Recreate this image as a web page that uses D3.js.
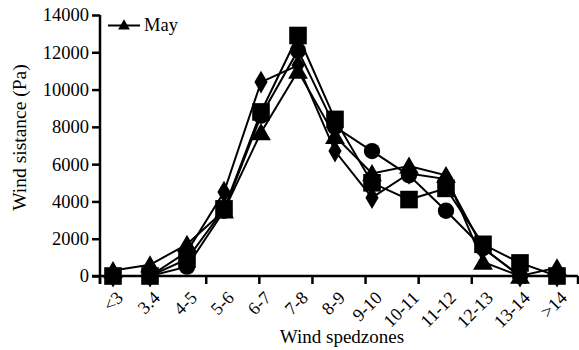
<!DOCTYPE html>
<html>
<head>
<meta charset="utf-8">
<script src="https://cdn.jsdelivr.net/npm/d3@7"></script>
<style>
html,body{margin:0;padding:0;background:#fff;}
svg{display:block;}
svg text{font-family:"Liberation Serif","Times New Roman",serif;fill:#000;}
</style>
</head>
<body>
<svg id="chart" width="579" height="350"></svg>
<script>
const categories = ["<3","3.4","4-5","5-6","6-7","7-8","8-9","9-10","10-11","11-12","12-13","13-14",">14"];
const diamondValues  = [0, 0, 1300, 4500, 10400, 11300, 6700, 4200, 5500, 5200, 1500, 0, 0];
const circleValues   = [0, 0, 500, 3500, 8600, 12100, 8000, 6700, 5400, 3500, 1500, 0, 0];
const squareValues   = [0, 0, 900, 3600, 8800, 12900, 8400, 5000, 4100, 4700, 1700, 700, 0];
const triangleValues = [300, 600, 1700, 3500, 7700, 11000, 7500, 5500, 5900, 5400, 750, 0, 450];
const yTicks = [0, 2000, 4000, 6000, 8000, 10000, 12000, 14000];
const legendLabel = "May";

const series = [
  {name: "diamond", values: diamondValues, symbol: d3.symbolDiamond, size: 150},
  {name: "circle", values: circleValues, symbol: d3.symbolCircle, size: 210},
  {name: "square", values: squareValues, symbol: d3.symbolSquare, size: 310},
  {name: "triangle", values: triangleValues, symbol: d3.symbolTriangle, size: 170}
];

const svg = d3.select("#chart");
const mLeft = 100, mRight = 578, mTop = 15, mBottom = 276;

const y = d3.scaleLinear().domain([0, 14000]).range([mBottom, mTop]);
const x = d3.scalePoint().domain(categories).range([113, 557]);
const tickScale = d3.scaleLinear().domain([0, 9]).range([mLeft, mRight]);

// Y axis
const yAxis = d3.axisLeft(y).tickValues(yTicks).tickSize(8).tickPadding(3).tickFormat(d3.format("d"));
const gy = svg.append("g").attr("transform", `translate(${mLeft},0)`).call(yAxis);
gy.select(".domain").remove();
gy.attr("font-family", null).attr("font-size", null);
gy.selectAll(".tick line").attr("stroke", "#000").attr("stroke-width", 2.5);
gy.selectAll("text").attr("font-size", 18.5);
svg.append("line").attr("x1", mLeft).attr("x2", mLeft).attr("y1", mTop).attr("y2", mBottom + 8)
  .attr("stroke", "#000").attr("stroke-width", 2.5);

// X axis line and ticks
svg.append("line").attr("x1", mLeft - 8).attr("x2", mRight).attr("y1", mBottom).attr("y2", mBottom)
  .attr("stroke", "#000").attr("stroke-width", 2.5);
svg.append("g").selectAll("line").data(d3.range(0, 10)).join("line")
  .attr("x1", d => tickScale(d)).attr("x2", d => tickScale(d))
  .attr("y1", mBottom).attr("y2", mBottom + 8)
  .attr("stroke", "#000").attr("stroke-width", 2.5);

// X labels
svg.append("g").selectAll("text").data(categories).join("text")
  .attr("transform", d => `translate(${x(d) + 11},${mBottom + 23}) rotate(-45)`)
  .attr("text-anchor", "end")
  .attr("font-size", 18)
  .text(d => d);

// Titles
svg.append("text").attr("x", 342).attr("y", 343).attr("text-anchor", "middle")
  .attr("font-size", 19).text("Wind spedzones");
svg.append("text").attr("transform", "translate(26,137.5) rotate(-90)")
  .attr("text-anchor", "middle").attr("font-size", 19.5).text("Wind sistance (Pa)");

// Lines
const line = d3.line().x((d, i) => x(categories[i])).y(d => y(d));
series.forEach(s => {
  svg.append("path").datum(s.values).attr("d", line)
    .attr("fill", "none").attr("stroke", "#000").attr("stroke-width", 2);
});
series.forEach(s => {
  const sym = d3.symbol().type(s.symbol).size(s.size);
  svg.append("g").selectAll("path").data(s.values).join("path")
    .attr("transform", (d, i) => `translate(${x(categories[i])},${y(d) + (s.name === "triangle" ? 2 : 0)})`)
    .attr("d", sym).attr("fill", "#000");
});

// Legend
svg.append("line").attr("x1", 108).attr("x2", 140).attr("y1", 25.5).attr("y2", 25.5)
  .attr("stroke", "#000").attr("stroke-width", 2);
svg.append("path").attr("transform", "translate(124,26)")
  .attr("d", d3.symbol().type(d3.symbolTriangle).size(60)).attr("fill", "#000");
svg.append("text").attr("x", 144).attr("y", 31).attr("font-size", 18.5).text(legendLabel);
</script>
</body>
</html>
